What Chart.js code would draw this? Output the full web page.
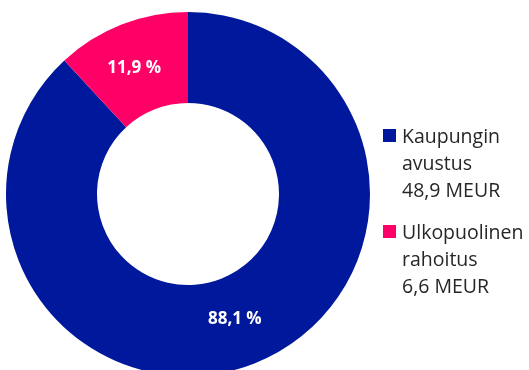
<!DOCTYPE html>
<html>
<head>
<meta charset="utf-8">
<script src="https://cdn.jsdelivr.net/npm/chart.js@4"></script>
<style>
  html, body { margin: 0; padding: 0; background: #fff; overflow: hidden; }
  #wrap { width: 529px; height: 370px; overflow: hidden; position: relative; }
  canvas { position: absolute; left: 0; top: 0; }
</style>
</head>
<body>
<div id="wrap"><canvas id="mychart" width="529" height="388"></canvas></div>
<script>
// rahoitus, MEUR
const labels = [['Kaupungin', 'avustus'], ['Ulkopuolinen', 'rahoitus']];
const values = [48.9, 6.6];
const colors = ['#00189b', '#ff0066'];

const total = values.reduce((a, b) => a + b, 0);
const fmt = (v, d) => v.toFixed(d).replace('.', ',');

// percentage text inside each slice
const sliceLabels = {
    id: 'sliceLabels',
    afterDatasetsDraw(chart) {
        const ctx = chart.ctx;
        ctx.save();
        ctx.fillStyle = '#fff';
        ctx.font = 'bold 17px "Open Sans"';
        ctx.textAlign = 'center';
        ctx.textBaseline = 'middle';
        chart.getDatasetMeta(0).data.forEach((arc, i) => {
            const p = arc.tooltipPosition();
            ctx.fillText(fmt(values[i] / total * 100, 1) + ' %', p.x + (i ? -4 : -3), p.y + (i ? 1 : -2));
        });
        ctx.restore();
    }
};

// legend on the right, name + amount on separate lines
const sideLegend = {
    id: 'sideLegend',
    afterDraw(chart) {
        const ctx = chart.ctx;
        const tops = [129, 225];
        ctx.save();
        ctx.font = '19.5px "Open Sans"';
        ctx.textBaseline = 'alphabetic';
        ctx.textAlign = 'left';
        labels.forEach((lab, i) => {
            const y = tops[i];
            ctx.fillStyle = colors[i];
            ctx.fillRect(383, y, 13, 13);
            ctx.fillStyle = '#262626';
            const lines = lab.concat(fmt(values[i], 1) + ' MEUR');
            lines.forEach((t, j) => ctx.fillText(t, 402, y + 14 + j * 27));
        });
        ctx.restore();
    }
};

new Chart(document.querySelector('#mychart'), {
    type: 'doughnut',
    data: {
        labels: labels,
        datasets: [{
            data: values,
            backgroundColor: colors,
            borderWidth: 0
        }]
    },
    options: {
        responsive: false,
        animation: false,
        cutout: '50%',
        layout: { padding: { left: 6, top: 12, right: 159, bottom: 12 } },
        plugins: {
            legend: { display: false },
            tooltip: { enabled: false }
        }
    },
    plugins: [sliceLabels, sideLegend]
});
</script>
</body>
</html>
